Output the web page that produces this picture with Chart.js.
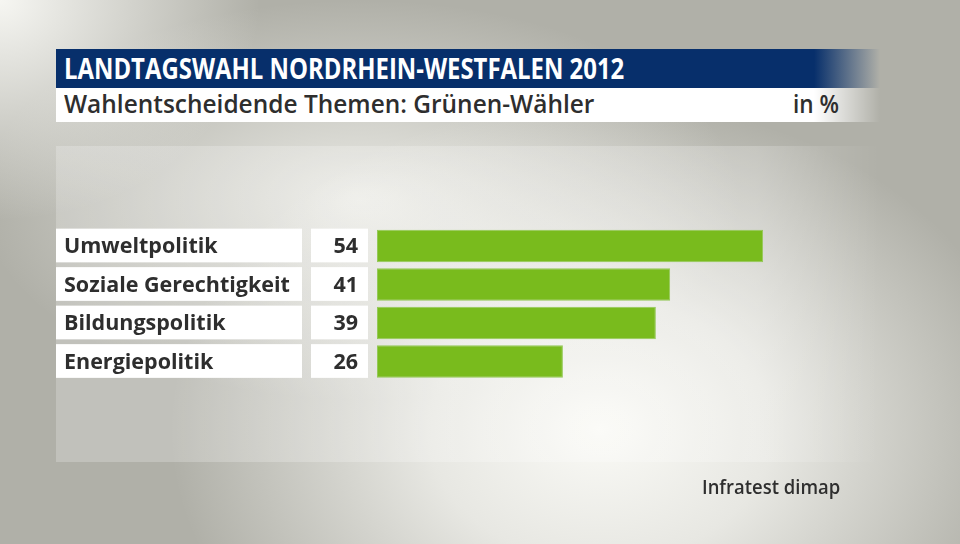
<!DOCTYPE html>
<html>
<head>
<meta charset="utf-8">
<script src="https://cdn.jsdelivr.net/npm/chart.js@4.4.1/dist/chart.umd.min.js"></script>
<style>
  html, body { margin: 0; padding: 0; }
  body {
    width: 960px; height: 544px; overflow: hidden; position: relative;
    background-color: #b0b0a8;
    background-image:
      radial-gradient(ellipse 430px 330px at 600px 430px, rgba(250,250,246,1) 0%, rgba(250,250,246,0.75) 40%, rgba(250,250,246,0) 100%),
      radial-gradient(ellipse 260px 220px at 0px 0px, rgba(246,246,242,1) 0%, rgba(246,246,242,0) 100%),
      radial-gradient(ellipse 380px 200px at 360px 200px, rgba(240,240,235,0.9) 0%, rgba(240,240,235,0) 100%);
    font-family: "Open Sans", sans-serif;
  }
  .panel {
    position: absolute; left: 56px; top: 146px; width: 824px; height: 316px;
    background: linear-gradient(90deg, rgba(255,255,255,0.22) 0%, rgba(255,255,255,0.22) 85%, rgba(255,255,255,0) 100%);
  }
  .head {
    position: absolute; left: 56px; top: 49px; width: 824px; height: 39px;
    background: linear-gradient(90deg, #072f6b 0%, #072f6b 92%, rgba(7,47,107,0) 100%);
  }
  .fit { position: absolute; white-space: nowrap; transform-origin: 0 50%; }
  .head .fit {
    left: 8px; top: 0px;
    font-weight: bold; font-size: 28px; color: #fff;
  }
  .sub {
    position: absolute; left: 56px; top: 88px; width: 824px; height: 34px;
    background: linear-gradient(90deg, #fff 0%, #fff 92%, rgba(255,255,255,0) 100%);
    color: #2e2e2e; font-weight: 600; font-size: 25px;
  }
  .sub .t { left: 8px; top: -2px; }
  .sub .u { left: 737px; top: -2px; }
  .source {
    left: 702px; top: 474px;
    color: #2e2e2e; font-weight: 600; font-size: 19px;
  }
  canvas { position: absolute; left: 0; top: 0; }
</style>
</head>
<body>
<div class="panel"></div>
<div class="head"><span class="fit" data-w="560">LANDTAGSWAHL NORDRHEIN-WESTFALEN 2012</span></div>
<div class="sub"><span class="fit t" data-w="530">Wahlentscheidende Themen: Grünen-Wähler</span><span class="fit u" data-w="46">in %</span></div>
<canvas id="chart" width="960" height="544"></canvas>
<span class="fit source" data-w="138">Infratest dimap</span>
<script>
"use strict";

// data
const categories = ["Umweltpolitik", "Soziale Gerechtigkeit", "Bildungspolitik", "Energiepolitik"];
const values = [54, 41, 39, 26];

// squeeze header texts to the widths of the original
document.querySelectorAll(".fit").forEach((el) => {
  const w = parseFloat(el.dataset.w);
  el.style.transform = "scaleX(" + w / el.offsetWidth + ")";
});

// white boxes with category and value text next to each bar
const labelBoxes = {
  id: "labelBoxes",
  afterDatasetsDraw(chart) {
    const ctx = chart.ctx;
    const meta = chart.getDatasetMeta(0);
    ctx.save();
    meta.data.forEach((bar, i) => {
      const top = bar.y - bar.height / 2 - 1;
      const h = bar.height + 1;
      ctx.fillStyle = "#ffffff";
      ctx.fillRect(56, top, 246, h);
      ctx.fillRect(311, top, 57, h);

      ctx.fillStyle = "#2e2e2e";
      ctx.font = "bold 21.5px 'Open Sans', sans-serif";
      ctx.textBaseline = "middle";
      ctx.textAlign = "left";
      ctx.fillText(categories[i], 64, bar.y + 1);
      ctx.textAlign = "right";
      ctx.fillText(String(values[i]), 358, bar.y + 1);
    });
    ctx.restore();
  },
};

const ctx = document.getElementById("chart").getContext("2d");
new Chart(ctx, {
  type: "bar",
  data: {
    labels: categories,
    datasets: [
      {
        data: values,
        backgroundColor: "#79bb1d",
        borderColor: "#94c957",
        borderWidth: 1,
        borderSkipped: false,
        barPercentage: 0.85,
        categoryPercentage: 1,
      },
    ],
  },
  options: {
    indexAxis: "y",
    responsive: false,
    animation: false,
    layout: {
      padding: { left: 377, right: 82.5, top: 226.75, bottom: 163.25 },
    },
    scales: {
      x: { display: false, min: 0, max: 70 },
      y: { display: false },
    },
    plugins: {
      legend: { display: false },
      tooltip: { enabled: false },
    },
  },
  plugins: [labelBoxes],
});
</script>
</body>
</html>
